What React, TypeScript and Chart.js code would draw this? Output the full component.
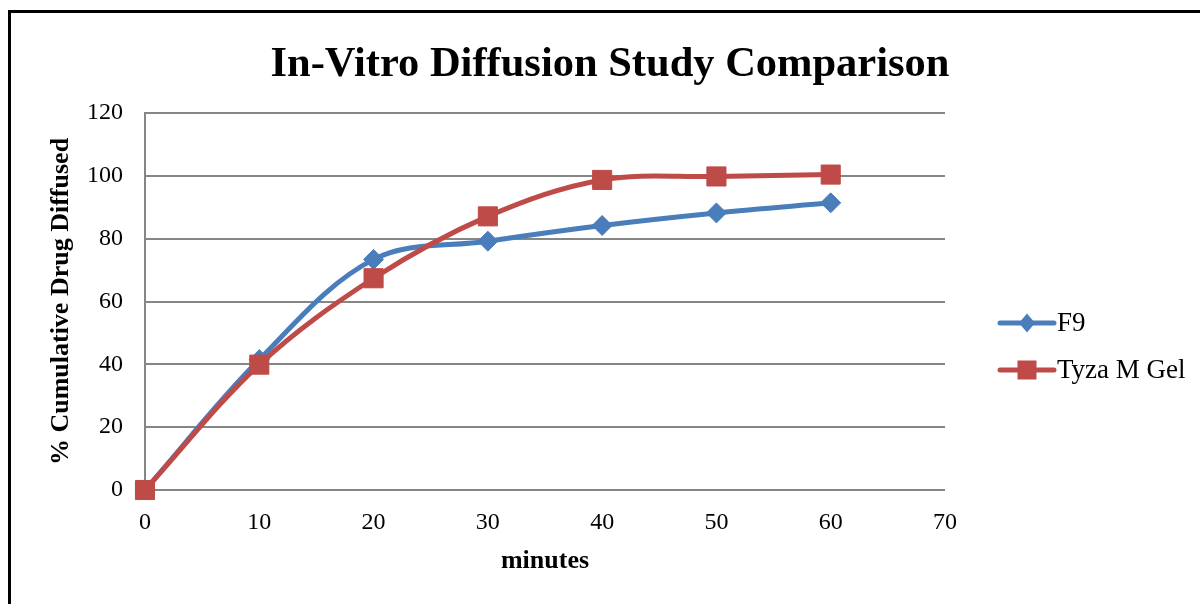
import React, { useEffect, useRef } from 'react';
import { Chart, registerables } from 'chart.js';

Chart.register(...registerables);

const minutes = [0, 10, 20, 30, 40, 50, 60];
const f9Values = [0, 41.5, 73.4, 79.2, 84.2, 88.2, 91.4];
const tyzaValues = [0, 39.9, 67.4, 87.1, 98.7, 99.8, 100.4];
const seriesNames = ['F9', 'Tyza M Gel'];
const seriesColors = ['#4A7EBB', '#BE4B48'];
const titleText = 'In-Vitro Diffusion Study Comparison';
const xTitle = 'minutes';
const yTitle = '% Cumulative Drug Diffused';

const SERIF = '"Liberation Serif", "Times New Roman", serif';

const overlayPlugin = {
  id: 'overlay',
  afterDraw(chart: any) {
    const ctx = chart.ctx as CanvasRenderingContext2D;
    ctx.save();
    // title
    ctx.fillStyle = '#000';
    ctx.font = `bold 42.5px ${SERIF}`;
    ctx.textAlign = 'center';
    ctx.textBaseline = 'alphabetic';
    ctx.fillText(titleText, 610, 76);
    // legend
    const items = [
      { name: seriesNames[0], color: seriesColors[0], style: 'diamond', y: 323 },
      { name: seriesNames[1], color: seriesColors[1], style: 'square', y: 370 },
    ];
    for (const it of items) {
      ctx.strokeStyle = it.color;
      ctx.lineWidth = 5;
      ctx.lineCap = 'round';
      ctx.beginPath();
      ctx.moveTo(1000, it.y);
      ctx.lineTo(1054, it.y);
      ctx.stroke();
      ctx.fillStyle = it.color;
      const cx = 1027;
      if (it.style === 'diamond') {
        ctx.beginPath();
        ctx.moveTo(cx, it.y - 9.5);
        ctx.lineTo(cx + 8, it.y);
        ctx.lineTo(cx, it.y + 9.5);
        ctx.lineTo(cx - 8, it.y);
        ctx.closePath();
        ctx.fill();
      } else {
        const h = 9.5;
        ctx.fillRect(cx - h, it.y - h, 2 * h, 2 * h);
      }
      ctx.fillStyle = '#000';
      ctx.font = `27px ${SERIF}`;
      ctx.textAlign = 'left';
      ctx.textBaseline = 'middle';
      ctx.fillText(it.name, 1057, it.y + 1);
    }
    ctx.restore();
  },
};

export default function App() {
  const ref = useRef<HTMLCanvasElement | null>(null);

  useEffect(() => {
    document.body.style.margin = '0';
    const canvas = ref.current;
    if (!canvas) return;
    const chart = new Chart(canvas, {
      type: 'line',
      data: {
        datasets: [
          {
            label: seriesNames[0],
            data: minutes.map((m, i) => ({ x: m, y: f9Values[i] })),
            borderColor: seriesColors[0],
            backgroundColor: seriesColors[0],
            borderWidth: 5,
            tension: 0.35,
            pointStyle: 'rectRot',
            pointRadius: 10,
            pointBorderWidth: 1,
            clip: false,
            order: 2,
          },
          {
            label: seriesNames[1],
            data: minutes.map((m, i) => ({ x: m, y: tyzaValues[i] })),
            borderColor: seriesColors[1],
            backgroundColor: seriesColors[1],
            borderWidth: 5,
            tension: 0.35,
            pointStyle: 'rect',
            pointRadius: 13.5,
            pointBorderWidth: 1,
            clip: false,
            order: 1,
          },
        ],
      },
      options: {
        responsive: false,
        animation: false,
        devicePixelRatio: 1,
        layout: { padding: { left: 0, right: 255, top: 113, bottom: 0 } },
        plugins: {
          legend: { display: false },
          title: { display: false },
          tooltip: { enabled: false },
        },
        scales: {
          x: {
            type: 'linear',
            min: 0,
            max: 70,
            afterFit: (s: any) => { s.height = 114; },
            grid: { display: false, drawTicks: false },
            border: { display: false },
            ticks: {
              stepSize: 10,
              padding: 18,
              color: '#000',
              font: { family: SERIF, size: 24 },
            },
            title: {
              display: true,
              text: xTitle,
              color: '#000',
              font: { family: SERIF, size: 26, weight: 'bold' },
              padding: { top: 0, bottom: 27 },
            },
          },
          y: {
            min: 0,
            max: 120,
            afterFit: (s: any) => { s.width = 145; },
            grid: { color: '#868686', lineWidth: 2, drawTicks: false },
            border: { display: true, color: '#868686', width: 2 },
            ticks: {
              stepSize: 20,
              padding: 22,
              color: '#000',
              font: { family: SERIF, size: 24 },
            },
            title: {
              display: true,
              text: yTitle,
              color: '#000',
              font: { family: SERIF, size: 26, weight: 'bold' },
              padding: { top: 46, bottom: 0 },
            },
          },
        },
      },
      plugins: [overlayPlugin],
    } as any);
    return () => chart.destroy();
  }, []);

  return (
    <div style={{ position: 'relative', width: 1200, height: 604, overflow: 'hidden', background: '#fff' }}>
      <canvas ref={ref} width={1200} height={604} style={{ display: 'block', width: 1200, height: 604 }} />
      <div
        style={{
          position: 'absolute',
          left: 8,
          top: 10,
          width: 1300,
          height: 700,
          borderLeft: '3px solid #000',
          borderTop: '3px solid #000',
          pointerEvents: 'none',
        }}
      />
    </div>
  );
}
